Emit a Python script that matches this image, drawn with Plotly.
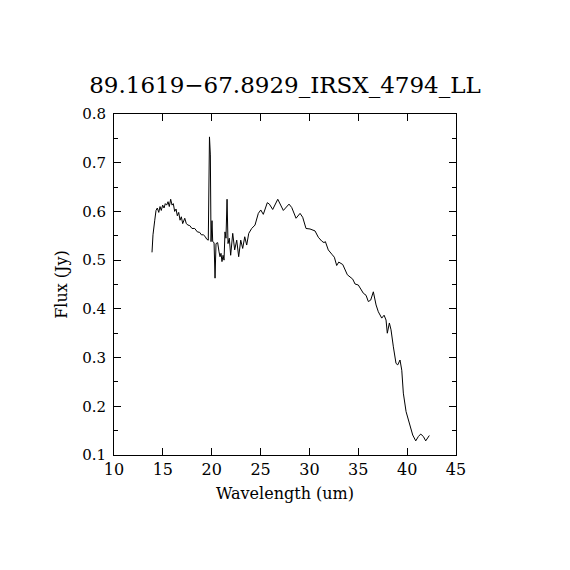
import plotly.graph_objects as go

wavelength = [
    13.89, 13.99, 14.17, 14.30, 14.43, 14.58, 14.71, 14.84, 14.98, 15.12,
    15.25, 15.39, 15.53, 15.66, 15.80, 15.94, 16.07, 16.21, 16.35, 16.48,
    16.62, 16.76, 16.89, 17.03, 17.24, 17.40, 17.57, 17.75, 17.98, 18.26,
    18.53, 18.77, 18.94, 19.14, 19.31, 19.49, 19.65, 19.77, 19.86, 19.93,
    20.03, 20.10, 20.24, 20.34, 20.44, 20.61, 20.75, 20.85, 20.95, 21.05,
    21.16, 21.26, 21.36, 21.46, 21.57, 21.67, 21.80, 21.94, 22.15, 22.35,
    22.56, 22.76, 22.97, 23.17, 23.38, 23.58, 23.79, 23.99, 24.09, 24.43,
    24.77, 25.02, 25.28, 25.69, 25.90, 26.24, 26.76, 27.33, 27.91, 28.19,
    28.63, 29.04, 29.31, 29.65, 30.06, 30.57, 30.91, 31.26, 31.49, 31.63,
    31.93, 32.34, 32.55, 32.79, 33.00, 33.41, 33.88, 34.43, 34.67, 35.00,
    35.18, 35.52, 35.79, 36.03, 36.27, 36.54, 36.82, 37.05, 37.40, 37.64,
    37.84, 37.97, 38.18, 38.35, 38.59, 38.86, 39.04, 39.27, 39.45, 39.61,
    39.89, 40.22, 40.57, 40.88, 41.15, 41.39, 41.66, 41.90, 42.27,
]

flux = [
    0.516, 0.552, 0.582, 0.602, 0.607, 0.598, 0.610, 0.602, 0.613, 0.607,
    0.616, 0.613, 0.620, 0.610, 0.625, 0.613, 0.616, 0.600, 0.605, 0.591,
    0.598, 0.582, 0.589, 0.575, 0.586, 0.575, 0.572, 0.571, 0.565, 0.565,
    0.558, 0.557, 0.552, 0.552, 0.549, 0.543, 0.541, 0.753, 0.716, 0.538,
    0.581, 0.538, 0.536, 0.463, 0.534, 0.536, 0.517, 0.507, 0.514, 0.497,
    0.510, 0.500, 0.558, 0.545, 0.625, 0.534, 0.545, 0.510, 0.555, 0.521,
    0.541, 0.507, 0.541, 0.524, 0.548, 0.531, 0.555, 0.562, 0.565, 0.572,
    0.596, 0.603, 0.594, 0.618, 0.615, 0.604, 0.625, 0.602, 0.615, 0.608,
    0.586, 0.596, 0.588, 0.565, 0.564, 0.560, 0.547, 0.539, 0.536, 0.538,
    0.521, 0.511, 0.506, 0.489, 0.496, 0.491, 0.470, 0.461, 0.451, 0.449,
    0.442, 0.432, 0.428, 0.415, 0.418, 0.435, 0.408, 0.394, 0.381, 0.387,
    0.377, 0.350, 0.371, 0.357, 0.322, 0.288, 0.285, 0.295, 0.274, 0.227,
    0.189, 0.168, 0.141, 0.129, 0.138, 0.143, 0.138, 0.129, 0.140,
]

title_text = "89.1619\u221267.8929_IRSX_4794_LL"
x_title = "Wavelength (um)"
y_title = "Flux (Jy)"
x_ticks = [10, 15, 20, 25, 30, 35, 40, 45]
y_ticks = [0.1, 0.2, 0.3, 0.4, 0.5, 0.6, 0.7, 0.8]

FONT = "DejaVu Serif"

fig = go.Figure()
fig.add_trace(go.Scatter(
    x=wavelength, y=flux, mode="lines",
    line=dict(color="black", width=1),
    showlegend=False, hoverinfo="skip",
))

fig.update_layout(
    width=570, height=570,
    margin=dict(l=106, r=122, t=106, b=123),
    paper_bgcolor="white", plot_bgcolor="white",
    font=dict(family=FONT, color="black", size=15),
    title=dict(text=title_text, x=(285 - 8) / 570, xanchor="center", y=1 - 77 / 570,
               yanchor="middle", font=dict(family=FONT, size=23, color="black")),
)

fig.update_xaxes(
    range=[10, 45], tickvals=x_ticks, ticktext=[str(v) for v in x_ticks],
    showline=True, linecolor="black", linewidth=1, mirror="ticks",
    ticks="inside", ticklen=7, tickcolor="black", tickwidth=1,
    showgrid=False, zeroline=False,
    tickfont=dict(family=FONT, size=16),
    title=dict(text=x_title, font=dict(family=FONT, size=16), standoff=9),
)
fig.update_yaxes(
    range=[0.1, 0.8], tickvals=y_ticks, ticktext=[f"{v:.1f}" for v in y_ticks],
    showline=True, linecolor="black", linewidth=1, mirror="ticks",
    ticks="inside", ticklen=7, tickcolor="black", tickwidth=1,
    ticklabelstandoff=4,
    minor=dict(dtick=0.05, tick0=0.1, ticks="inside", ticklen=4, tickcolor="black", showgrid=False),
    showgrid=False, zeroline=False,
    tickfont=dict(family=FONT, size=15),
    title=dict(text=y_title, font=dict(family=FONT, size=16), standoff=10),
)

fig.write_html("out.html")
